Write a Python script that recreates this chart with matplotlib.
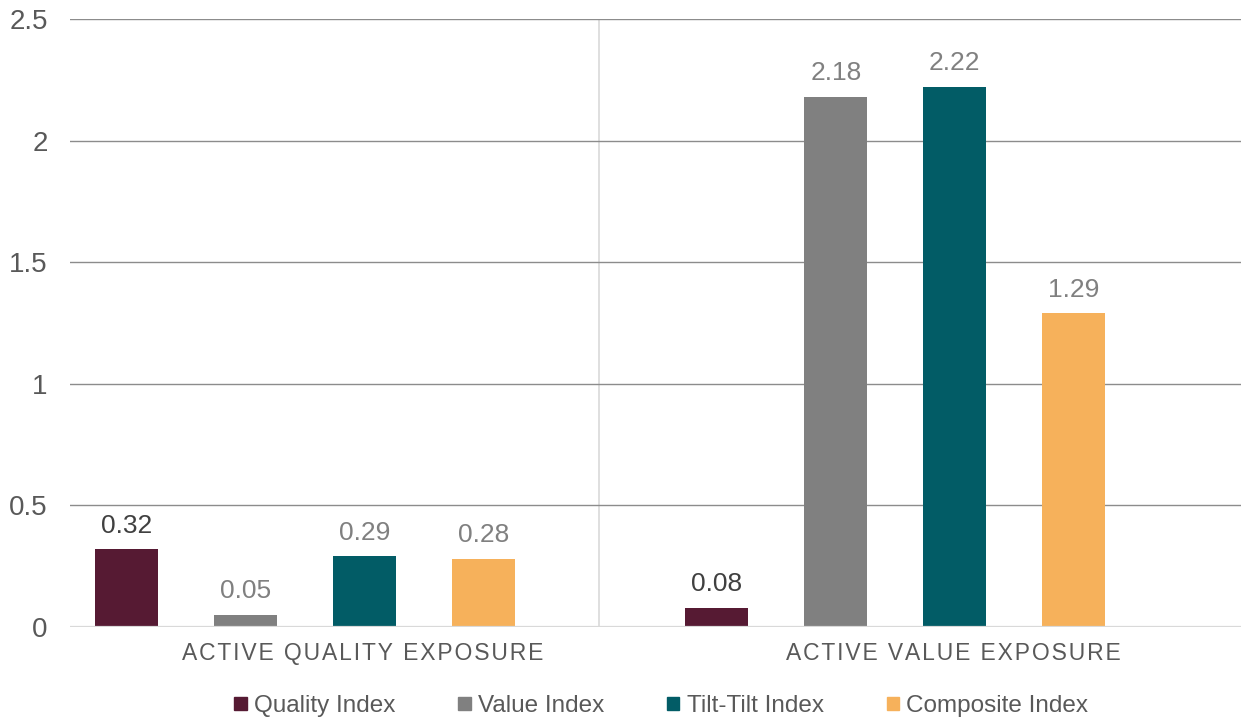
import matplotlib
matplotlib.use("Agg")
import matplotlib.pyplot as plt
from matplotlib.patches import Patch

plt.rcParams['font.family'] = ['Liberation Sans', 'DejaVu Sans']

# Datos del gráfico
categories = ["ACTIVE QUALITY EXPOSURE", "ACTIVE VALUE EXPOSURE"]
series = ["Quality Index", "Value Index", "Tilt-Tilt Index", "Composite Index"]
quality = [0.32, 0.08]
value = [0.05, 2.18]
tilt = [0.29, 2.22]
composite = [0.28, 1.29]
colors = ["#561A33", "#808080", "#025C66", "#F6B15B"]
label_colors = ["#404040", "#808080", "#808080", "#808080"]
yticks = [0, 0.5, 1, 1.5, 2, 2.5]
ytick_labels = ["0", "0.5", "1", "1.5", "2", "2.5"]

fig = plt.figure(figsize=(12.41, 7.17), dpi=100)
ax = fig.add_axes([0.0564, 0.1255, 0.9436, 0.848])

step = 0.2017
width = 0.107
x = [0, 1]

for k, (name, vals) in enumerate(zip(series, [quality, value, tilt, composite])):
    pos = [c + (k - 2) * step + 0.003 for c in x]
    ax.bar(pos, vals, width=width, color=colors[k], label=name, zorder=3)
    for p, v in zip(pos, vals):
        ax.annotate(f"{v:.2f}", (p, v), xytext=(0, 12), textcoords="offset points",
                    ha="center", va="baseline", fontsize=19, color=label_colors[k])

ax.set_xlim(-0.4966, 1.488)
ax.set_ylim(0, 2.5)
ax.set_yticks(yticks)
ax.set_yticklabels(ytick_labels, fontsize=20, color="#595959")
ax.tick_params(axis="y", length=0, pad=16)
ax.set_xticks([])
for s in ax.spines.values():
    s.set_visible(False)

ax.grid(axis="y", color="#8c8c8c", linewidth=1.0, zorder=0)
ax.axhline(0, color="#d9d9d9", linewidth=1.6, zorder=4)
ax.axvline(0.4, color="#d9d9d9", linewidth=1.2, zorder=1)

# etiquetas de categoría con espaciado entre letras
for c, name in zip(x, categories):
    spaced = "\u200a".join(name)
    ax.annotate(spaced, (c, 0), xytext=(0, -24), textcoords="offset points",
                ha="center", va="baseline", fontsize=16.5, color="#595959")

handles = [Patch(color=col, label=n) for col, n in zip(colors, series)]
leg = ax.legend(handles=handles, loc="center", bbox_to_anchor=(0.505, -0.13), ncol=4,
                frameon=False, fontsize=17.5, handlelength=0.5, handleheight=0.5,
                handletextpad=0.3, columnspacing=2.6, borderaxespad=0)
for t in leg.get_texts():
    t.set_color("#595959")

fig.savefig("out.png", dpi=100)
